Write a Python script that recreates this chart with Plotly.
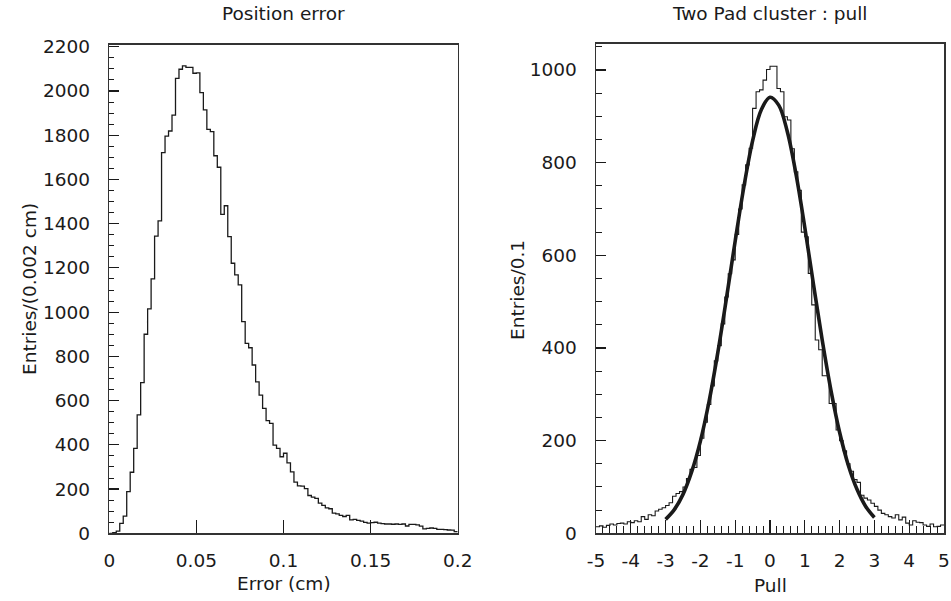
import numpy as np
import plotly.graph_objects as go

# ---------------- data ----------------
# Left: position error histogram, 100 bins from 0 to 0.2 cm
err_lo, err_hi, err_nbins = 0.0, 0.2, 100
err_counts = [
    0, 3, 10, 45, 78, 188, 276, 384, 535, 681,
    900, 1015, 1150, 1344, 1413, 1721, 1796, 1819, 1891, 2057,
    2098, 2113, 2107, 2107, 2080, 2082, 1992, 1914, 1826, 1816,
    1707, 1655, 1442, 1481, 1341, 1221, 1168, 1123, 957, 859,
    839, 761, 685, 625, 565, 509, 497, 399, 384, 346,
    362, 318, 278, 231, 214, 213, 202, 171, 164, 158,
    136, 126, 115, 111, 91, 88, 81, 76, 81, 61,
    63, 58, 55, 49, 46, 48, 50, 46, 44, 42,
    42, 41, 42, 40, 42, 33, 40, 40, 38, 32,
    20, 22, 24, 22, 18, 18, 17, 15, 14, 8,
]

# Right: two pad cluster pull histogram, 100 bins from -5 to 5
pull_lo, pull_hi, pull_nbins = -5.0, 5.0, 100
pull_counts = [
    14, 16, 13, 17, 20, 18, 21, 22, 20, 25,
    23, 27, 25, 36, 30, 40, 38, 48, 52, 55,
    60, 66, 80, 86, 90, 100, 118, 138, 142, 168,
    205, 240, 278, 318, 372, 405, 452, 510, 560, 590,
    645, 700, 752, 795, 831, 917, 953, 957, 978, 1001,
    1008, 1008, 960, 953, 899, 892, 830, 780, 740, 650,
    640, 561, 493, 417, 396, 340, 340, 280, 280, 223,
    200, 178, 150, 134, 116, 110, 82, 76, 72, 65,
    58, 50, 43, 40, 36, 33, 40, 29, 35, 22,
    18, 27, 24, 23, 18, 15, 20, 14, 15, 18,
]

# Gaussian fit curve
fit_x = [-3.0, -2.75, -2.5, -2.25, -2.0, -1.75, -1.5, -1.25, -1.0, -0.75, -0.5, -0.25,
         0.0, 0.25, 0.5, 0.75, 1.0, 1.25, 1.5, 1.75, 2.0, 2.25, 2.5, 2.75, 3.0]
fit_y = [30, 51, 84, 133, 199, 285, 390, 508, 631, 748, 847, 914,
         941, 924, 866, 774, 660, 537, 417, 309, 218, 147, 95, 58, 34]

# tick labels
err_ticks = [0, 0.05, 0.1, 0.15, 0.2]
err_ticktext = ["0", "0.05", "0.1", "0.15", "0.2"]
pull_ticks = [-5, -4, -3, -2, -1, 0, 1, 2, 3, 4, 5]
pull_ticktext = ["-5", "-4", "-3", "-2", "-1", "0", "1", "2", "3", "4", "5"]

# ---------------- helpers ----------------
def step_xy(lo, hi, n, counts):
    edges = np.linspace(lo, hi, n + 1)
    xs = list(edges)
    ys = list(counts) + [counts[-1]]
    return xs, ys

W, H = 951, 601
FONT = "DejaVu Sans"
FS = 18.5
INK = "#1a1a1a"
FRAME = "#333333"

fig = go.Figure()

ex, ey = step_xy(err_lo, err_hi, err_nbins, err_counts)
fig.add_trace(go.Scatter(x=ex, y=ey, mode="lines", line=dict(shape="hv", color=INK, width=1.3),
                         xaxis="x", yaxis="y", showlegend=False, hoverinfo="skip"))

px_, py_ = step_xy(pull_lo, pull_hi, pull_nbins, pull_counts)
fig.add_trace(go.Scatter(x=px_, y=py_, mode="lines", line=dict(shape="hv", color=INK, width=1.1),
                         xaxis="x2", yaxis="y2", showlegend=False, hoverinfo="skip"))

fig.add_trace(go.Scatter(x=fit_x, y=fit_y, mode="lines", line=dict(shape="spline", color="#1a1a1a", width=3.6),
                         xaxis="x2", yaxis="y2", showlegend=False, hoverinfo="skip"))

def px2fx(p):
    return p / W

def py2fy(p):
    return 1 - p / H

common_axis = dict(showline=True, linecolor=FRAME, linewidth=1.5, mirror=True, showgrid=False,
                   zeroline=False, ticks="inside", tickcolor=INK, tickwidth=1.2,
                   automargin=False, tickfont=dict(family=FONT, size=FS, color=INK))

fig.update_layout(
    width=W, height=H,
    margin=dict(l=0, r=0, t=0, b=0),
    paper_bgcolor="white", plot_bgcolor="white",
    font=dict(family=FONT, size=FS, color=INK),
    xaxis=dict(domain=[px2fx(109.3), px2fx(457.7)], range=[err_lo, err_hi], anchor="y",
               tickvals=err_ticks, ticktext=err_ticktext, ticklen=13,
               ticklabelstandoff=10, **common_axis),
    yaxis=dict(domain=[py2fy(533.3), py2fy(44.5)], range=[0, 2210], anchor="x",
               dtick=200, tick0=0, ticklen=10, ticklabelstandoff=14,
               minor=dict(dtick=50, ticks="inside", ticklen=5, tickcolor=INK, tickwidth=1),
               **common_axis),
    xaxis2=dict(domain=[px2fx(596), px2fx(944)], range=[pull_lo, pull_hi], anchor="y2",
                tickvals=pull_ticks, ticktext=pull_ticktext, ticklen=13, ticklabelstandoff=10,
                minor=dict(dtick=0.2, ticks="inside", ticklen=7, tickcolor=INK, tickwidth=1),
                **common_axis),
    yaxis2=dict(domain=[py2fy(533.3), py2fy(43.5)], range=[0, 1057], anchor="x2",
                dtick=200, tick0=0, ticklen=10, ticklabelstandoff=14,
                minor=dict(dtick=50, ticks="inside", ticklen=6, tickcolor=INK, tickwidth=1),
                **common_axis),
    annotations=[
        dict(text="Position error", x=px2fx(283.5), y=py2fy(14), xref="paper", yref="paper",
             showarrow=False, xanchor="center", yanchor="middle", font=dict(family=FONT, size=FS, color=INK)),
        dict(text="Two Pad cluster : pull", x=px2fx(770), y=py2fy(14), xref="paper", yref="paper",
             showarrow=False, xanchor="center", yanchor="middle", font=dict(family=FONT, size=FS, color=INK)),
        dict(text="Error (cm)", x=px2fx(283.5), y=py2fy(583), xref="paper", yref="paper",
             showarrow=False, xanchor="center", yanchor="middle", font=dict(family=FONT, size=FS, color=INK)),
        dict(text="Pull", x=px2fx(770), y=py2fy(585), xref="paper", yref="paper",
             showarrow=False, xanchor="center", yanchor="middle", font=dict(family=FONT, size=FS, color=INK)),
        dict(text="Entries/(0.002 cm)", x=px2fx(29), y=py2fy(289), xref="paper", yref="paper",
             showarrow=False, xanchor="center", yanchor="middle", textangle=-90,
             font=dict(family=FONT, size=FS, color=INK)),
        dict(text="Entries/0.1", x=px2fx(517), y=py2fy(290), xref="paper", yref="paper",
             showarrow=False, xanchor="center", yanchor="middle", textangle=-90,
             font=dict(family=FONT, size=FS, color=INK)),
    ],
)

fig.write_html("out.html", config={"displayModeBar": False, "staticPlot": True},
               post_script="document.body.style.margin='0';document.body.style.padding='0';")
